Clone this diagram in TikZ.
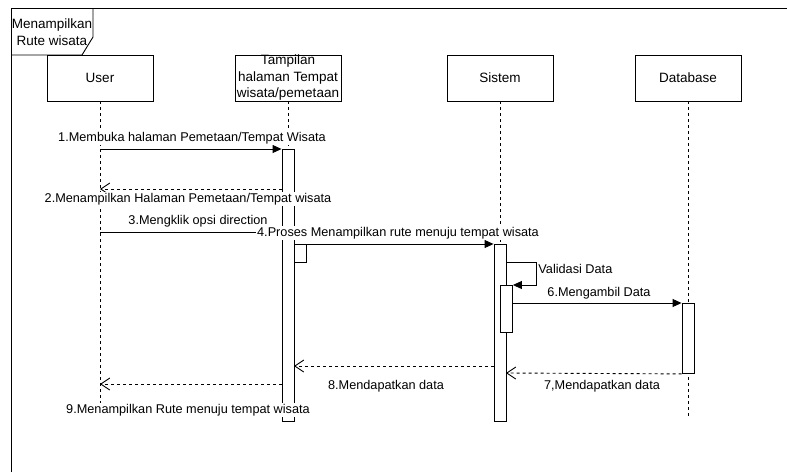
\documentclass[tikz,border=0pt]{standalone}
\usepackage{fontspec}
\setmainfont{Liberation Sans}
\usetikzlibrary{arrows.meta}
\begin{document}
\begin{tikzpicture}[x=1pt,y=-1pt,line width=0.9pt,
  actor/.style={draw, fill=white, minimum width=106pt, minimum height=46pt, inner sep=0pt, font=\fontsize{13.5}{17}\selectfont},
  boxtext/.style={align=center, inner sep=0pt, font=\fontsize{13.5}{16.5}\selectfont},
  lifeline/.style={dash pattern=on 3pt off 3pt, line width=0.8pt},
  act/.style={draw, fill=white, minimum width=12pt, inner sep=0pt},
  sync/.style={-{Triangle[length=9pt,width=8pt]}},
  retmsg/.style={dash pattern=on 3pt off 3pt, -{Straight Barb[length=9pt,width=12pt]}},
  lbl/.style={fill=white, inner sep=1pt, font=\fontsize{12.7}{15}\selectfont},
]
\useasboundingbox (0,0) rectangle (787,472);
% frame
\draw (11,472) -- (11,8) -- (787,8);
\draw (11,55) -- (82,55) -- (93,37) -- (93,8);
\node[boxtext] (frametitle) at (52,32) {Menampilkan\\Rute wisata};

% actors
\node[actor] (user) at (100,78) {User};
\node[actor] (tamp) at (288,78) {};
\node[boxtext] (tamptext) at (tamp) {Tampilan\\halaman Tempat\\wisata/pemetaan};
\node[actor] (sis) at (500,78) {Sistem};
\node[actor] (db) at (688,78) {Database};

% lifeline ends
\coordinate (userEnd) at (100,412);
\coordinate (tampEnd) at (288,421);
\coordinate (sisEnd) at (500,421);
\coordinate (dbEnd) at (688,417);
\draw[lifeline] (user.south) -- (userEnd);
\draw[lifeline] (tamp.south) -- (tampEnd);
\draw[lifeline] (sis.south) -- (sisEnd);
\draw[lifeline] (db.south) -- (dbEnd);

% activations
\node[act, anchor=north, minimum height=272pt] (a1) at (288,149) {};
\node[act, anchor=north west, minimum height=18pt] (a1b) at (294,244) {};
\node[act, anchor=north, minimum height=177pt] (a2) at (500,244) {};
\node[act, anchor=north west, minimum height=47pt] (a2b) at (500,285) {};
\node[act, anchor=north, minimum height=70pt] (a3) at (688,303) {};

% message y positions on user lifeline
\coordinate (u2) at (100,189);
\coordinate (u3) at (100,232);
\coordinate (u9) at (100,384);
\coordinate (loopA) at (536,262);
\coordinate (loopB) at (536,285);
\coordinate (m6) at (512,303);
\coordinate (m7) at (506,373);
\coordinate (m8) at (294,366);

% messages
\draw[sync] (user.south |- a1.north) -- (a1.north west);
\draw[retmsg] (a1.west |- u2) -- (u2);
\draw[sync] (u3) -- (a1.west |- u3);
\draw[sync] (a1b.north east) -- (a2.north west);
\draw[sync] (a2.east |- loopA) -- (loopA) -- (loopB) -- (a2b.north east);
\draw[sync] (m6) -- (a3.north west);
\draw[retmsg] (a3.south west) -- (m7);
\draw[retmsg] (a2.west |- m8) -- (m8);
\draw[retmsg] (a1.west |- u9) -- (u9);

% labels
\node[lbl] (l1) at (192,138) {1.Membuka halaman Pemetaan/Tempat Wisata};
\node[lbl] (l2) at (188,199) {2.Menampilkan Halaman Pemetaan/Tempat wisata};
\node[lbl] (l3) at (198,221) {3.Mengklik opsi direction};
\node[lbl] (l4) at (398,233) {4.Proses Menampilkan rute menuju tempat wisata};
\node[lbl, anchor=west] (l5) at (537,269) {Validasi Data};
\node[lbl] (l6) at (599,293) {6.Mengambil Data};
\node[lbl] (l7) at (602,386) {7,Mendapatkan data};
\node[lbl] (l8) at (386,386) {8.Mendapatkan data};
\node[lbl] (l9) at (188,410) {9.Menampilkan Rute menuju tempat wisata};
\end{tikzpicture}
\end{document}
